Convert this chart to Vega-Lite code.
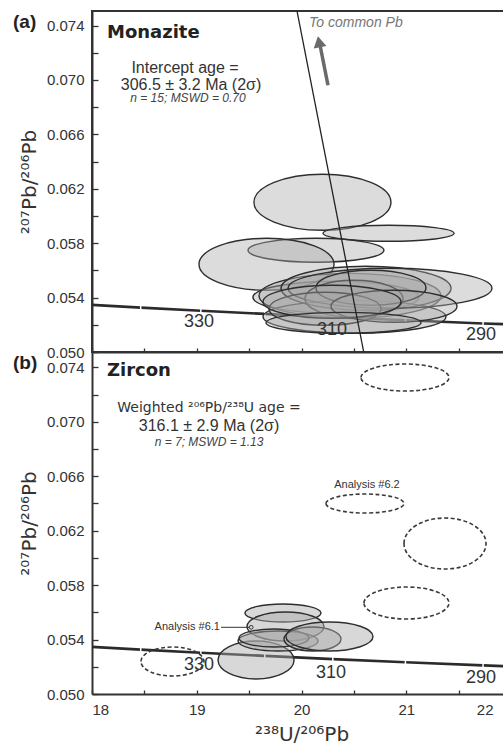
{
  "$schema": "https://vega.github.io/schema/vega-lite/v6.json",
  "padding": {"left": 12, "top": 10, "right": 0, "bottom": 0},
  "background": "white",
  "spacing": 0,
  "bounds": "flush",
  "config": {"view": {"stroke": null}, "font": "Liberation Sans"},
  "resolve": {"scale": {"x": "independent", "y": "independent", "shape": "independent", "size": "independent"}},
  "datasets": {
    "conc": [
      {"age": 350, "x": 17.923, "y": 0.0535},
      {"age": 340, "x": 18.465, "y": 0.05326},
      {"age": 330, "x": 19.039, "y": 0.05303},
      {"age": 320, "x": 19.649, "y": 0.0528},
      {"age": 310, "x": 20.299, "y": 0.05256},
      {"age": 300, "x": 20.992, "y": 0.05233},
      {"age": 290, "x": 21.733, "y": 0.0521},
      {"age": 280, "x": 22.527, "y": 0.05188}
    ],
    "zr": [
      {"id": "z1", "x": 19.566, "y": 0.052498, "w": 0.726, "status": "included"},
      {"id": "z2", "x": 19.823, "y": 0.055951, "w": 0.726, "status": "included"},
      {"id": "z3", "x": 19.847, "y": 0.05496, "w": 0.735, "status": "included"},
      {"id": "z4", "x": 19.776, "y": 0.053894, "w": 0.764, "status": "included"},
      {"id": "z5", "x": 19.737, "y": 0.054115, "w": 0.668, "status": "included"},
      {"id": "z6", "x": 20.105, "y": 0.054041, "w": 0.544, "status": "included"},
      {"id": "z7", "x": 20.267, "y": 0.054225, "w": 0.831, "status": "included"},
      {"id": "z8", "x": 20.988, "y": 0.073255, "w": 0.84, "status": "excluded"},
      {"id": "z9", "x": 20.606, "y": 0.063997, "w": 0.745, "status": "excluded"},
      {"id": "z10", "x": 21.37, "y": 0.061058, "w": 0.783, "status": "excluded"},
      {"id": "z11", "x": 21.002, "y": 0.056686, "w": 0.811, "status": "excluded"},
      {"id": "z12", "x": 18.768, "y": 0.052388, "w": 0.601, "status": "excluded"}
    ]
  },
  "vconcat": [
    {
      "width": 419,
      "height": 341,
      "view": {"stroke": "#333333", "strokeWidth": 2},
      "encoding": {
        "x": {"field": "x", "type": "quantitative", "scale": {"domain": [18, 22], "nice": false, "zero": false},
          "axis": {"title": null, "labels": false, "values": [18, 18.5, 19, 19.5, 20, 20.5, 21, 21.5, 22], "tickSize": -4, "tickColor": "#333333", "tickWidth": 1.3, "domainColor": "#333333", "domainWidth": 2, "grid": false}},
        "y": {"field": "y", "type": "quantitative", "scale": {"domain": [0.05, 0.07507], "nice": false, "zero": false},
          "axis": {"title": "²⁰⁷Pb/²⁰⁶Pb", "values": [0.05, 0.052, 0.054, 0.056, 0.058, 0.06, 0.062, 0.064, 0.066, 0.068, 0.07, 0.072, 0.074], "labelExpr": "round(datum.value*1000) % 4 == 2 ? format(datum.value, '.3f') : ''", "tickSize": -6, "tickColor": "#333333", "tickWidth": 1.3, "domainColor": "#333333", "domainWidth": 2, "labelFont": "Liberation Sans", "labelFontSize": 15, "labelColor": "#333333", "labelPadding": 14, "labelFlush": false, "labelOverlap": false, "titleFont": "DejaVu Sans", "titleFontSize": 20, "titleFontWeight": "normal", "titleColor": "#333333", "titlePadding": 7, "grid": false}}
      },
      "layer": [
        {"data": {"name": "conc"}, "mark": {"type": "line", "color": "#2b2b2b", "strokeWidth": 2.6, "clip": true}, "encoding": {}},
        {"data": {"name": "conc"}, "transform": [{"filter": "datum.age >= 290 && datum.age <= 340"}], "mark": {"type": "point", "shape": "M0,-1L0,1", "size": 30, "color": "#ffffff", "stroke": "#ffffff", "strokeWidth": 1.5, "opacity": 1, "filled": false}, "encoding": {}},
        {"data": {"values": [
            {"id": "m1", "x": 20.2, "y": 0.061007, "w": 1.308},
            {"id": "m2", "x": 20.831, "y": 0.058728, "w": 1.251},
            {"id": "m3", "x": 20.138, "y": 0.057478, "w": 1.298},
            {"id": "m4", "x": 19.666, "y": 0.056449, "w": 1.289},
            {"id": "m5", "x": 20.329, "y": 0.054022, "w": 1.585},
            {"id": "m6", "x": 20.463, "y": 0.054132, "w": 1.737},
            {"id": "m7", "x": 20.506, "y": 0.052588, "w": 1.747},
            {"id": "m8", "x": 20.616, "y": 0.054684, "w": 1.623},
            {"id": "m9", "x": 20.845, "y": 0.054684, "w": 1.947},
            {"id": "m10", "x": 20.501, "y": 0.053912, "w": 0.936},
            {"id": "m11", "x": 20.663, "y": 0.054721, "w": 1.05},
            {"id": "m12", "x": 20.224, "y": 0.053176, "w": 1.069},
            {"id": "m13", "x": 20.883, "y": 0.05336, "w": 1.203},
            {"id": "m14", "x": 20.291, "y": 0.053691, "w": 1.317},
            {"id": "m15", "x": 20.401, "y": 0.052147, "w": 1.48}
          ]},
          "mark": {"type": "point", "filled": true, "fill": "#a8a8a8", "fillOpacity": 0.4, "stroke": "#2e2e2e", "strokeWidth": 1.4, "opacity": 1},
          "encoding": {
            "shape": {"field": "id", "type": "nominal", "legend": null, "scale": {
              "domain": ["m1", "m2", "m3", "m4", "m5", "m6", "m7", "m8", "m9", "m10", "m11", "m12", "m13", "m14", "m15"],
              "range": [
                "M-1,0A1,0.409,0,1,1,1,0A1,0.409,0,1,1,-1,0Z",
                "M-1,0A1,0.122,0,1,1,1,0A1,0.122,0,1,1,-1,0Z",
                "M-1,0A1,0.176,0,1,1,1,0A1,0.176,0,1,1,-1,0Z",
                "M-1,0A1,0.385,0,1,1,1,0A1,0.385,0,1,1,-1,0Z",
                "M-1,0A1,0.193,0,1,1,1,0A1,0.193,0,1,1,-1,0Z",
                "M-1,0A1,0.247,0,1,1,1,0A1,0.247,0,1,1,-1,0Z",
                "M-1,0A1,0.180,0,1,1,1,0A1,0.180,0,1,1,-1,0Z",
                "M-1,0A1,0.259,0,1,1,1,0A1,0.259,0,1,1,-1,0Z",
                "M-1,0A1,0.196,0,1,1,1,0A1,0.196,0,1,1,-1,0Z",
                "M-1,0A1,0.378,0,1,1,1,0A1,0.378,0,1,1,-1,0Z",
                "M-1,0A1,0.318,0,1,1,1,0A1,0.318,0,1,1,-1,0Z",
                "M-1,0A1,0.295,0,1,1,1,0A1,0.295,0,1,1,-1,0Z",
                "M-1,0A1,0.254,0,1,1,1,0A1,0.254,0,1,1,-1,0Z",
                "M-1,0A1,0.239,0,1,1,1,0A1,0.239,0,1,1,-1,0Z",
                "M-1,0A1,0.135,0,1,1,1,0A1,0.135,0,1,1,-1,0Z"
              ]}},
            "size": {"field": "w", "type": "quantitative", "legend": null, "scale": {"type": "pow", "exponent": 2, "domain": [0, 1], "range": [0, 10972.6]}}
          }},
        {"data": {"values": [{"x": 19.021, "y": 0.052184, "t": "330"}, {"x": 20.291, "y": 0.051596, "t": "310"}, {"x": 21.714, "y": 0.051228, "t": "290"}]},
          "mark": {"type": "text", "fontSize": 18, "color": "#333333", "font": "Liberation Sans"}, "encoding": {"text": {"field": "t"}}},
        {"data": {"values": [{"x": 19.957, "y": 0.07507}, {"x": 20.594, "y": 0.05}]}, "mark": {"type": "line", "color": "#222222", "strokeWidth": 1.3, "clip": true}, "encoding": {}},
        {"data": {"values": [{"x": 20.253, "y": 0.06961}, {"x": 20.177, "y": 0.07255}]}, "mark": {"type": "line", "color": "#6a6a6a", "strokeWidth": 3.5}, "encoding": {}},
        {"data": {"values": [{"x": 20.167, "y": 0.07281}]}, "mark": {"type": "point", "shape": "triangle-up", "size": 170, "filled": true, "fill": "#6a6a6a", "color": "#6a6a6a", "opacity": 1, "angle": 349, "strokeWidth": 0}, "encoding": {}},
        {"data": {"values": [{"x": 18.143, "y": 0.073434, "t": "Monazite"}]}, "mark": {"type": "text", "align": "left", "baseline": "middle", "font": "DejaVu Sans", "fontWeight": "bold", "fontSize": 18, "color": "#222222"}, "encoding": {"text": {"field": "t"}}},
        {"data": {"values": [{"x": 17.246, "y": 0.074243, "t": "(a)"}]}, "mark": {"type": "text", "align": "left", "baseline": "middle", "font": "Liberation Sans", "fontWeight": "bold", "fontSize": 19, "color": "#222222"}, "encoding": {"text": {"field": "t"}}},
        {"data": {"values": [{"x": 18.888, "y": 0.070511, "t": "Intercept age ="}, {"x": 18.945, "y": 0.069284, "t": "306.5 ± 3.2 Ma (2σ)"}]}, "mark": {"type": "text", "align": "center", "baseline": "alphabetic", "font": "Liberation Sans", "fontSize": 16, "color": "#333333"}, "encoding": {"text": {"field": "t"}}},
        {"data": {"values": [{"x": 18.916, "y": 0.068364, "t": "n = 15; MSWD = 0.70"}]}, "mark": {"type": "text", "align": "center", "baseline": "alphabetic", "font": "Liberation Sans", "fontStyle": "italic", "fontSize": 12, "color": "#444444"}, "encoding": {"text": {"field": "t"}}},
        {"data": {"values": [{"x": 20.072, "y": 0.074188, "t": "To common Pb"}]}, "mark": {"type": "text", "align": "left", "baseline": "middle", "font": "Liberation Sans", "fontStyle": "italic", "fontSize": 14, "color": "#777777"}, "encoding": {"text": {"field": "t"}}}
      ]
    },
    {
      "width": 419,
      "height": 342,
      "encoding": {
        "x": {"field": "x", "type": "quantitative", "scale": {"domain": [18, 22], "nice": false, "zero": false},
          "axis": {"title": "²³⁸U/²⁰⁶Pb", "values": [18, 18.5, 19, 19.5, 20, 20.5, 21, 21.5, 22], "labelExpr": "datum.value % 1 == 0 ? format(datum.value, 'd') : ''", "tickSize": -4, "tickColor": "#333333", "tickWidth": 1.3, "domainColor": "#333333", "domainWidth": 2, "labelFont": "Liberation Sans", "labelFontSize": 15, "labelColor": "#333333", "labelPadding": 12.5, "labelFlush": true, "labelOverlap": false, "labelOffset": {"condition": {"test": "datum.value == 22", "value": -18}, "value": 0}, "titleFont": "DejaVu Sans", "titleFontSize": 20, "titleFontWeight": "normal", "titleColor": "#333333", "titlePadding": 7, "grid": false}},
        "y": {"field": "y", "type": "quantitative", "scale": {"domain": [0.05, 0.07513], "nice": false, "zero": false},
          "axis": {"title": "²⁰⁷Pb/²⁰⁶Pb", "values": [0.05, 0.052, 0.054, 0.056, 0.058, 0.06, 0.062, 0.064, 0.066, 0.068, 0.07, 0.072, 0.074], "labelExpr": "round(datum.value*1000) % 4 == 2 ? format(datum.value, '.3f') : ''", "tickSize": -6, "tickColor": "#333333", "tickWidth": 1.3, "domainColor": "#333333", "domainWidth": 2, "labelFont": "Liberation Sans", "labelFontSize": 15, "labelColor": "#333333", "labelPadding": 14, "labelFlush": false, "labelOverlap": false, "titleFont": "DejaVu Sans", "titleFontSize": 20, "titleFontWeight": "normal", "titleColor": "#333333", "titlePadding": 7, "grid": false}}
      },
      "layer": [
        {"data": {"name": "conc"}, "mark": {"type": "line", "color": "#2b2b2b", "strokeWidth": 2.6, "clip": true}, "encoding": {}},
        {"data": {"name": "conc"}, "transform": [{"filter": "datum.age >= 290 && datum.age <= 340"}], "mark": {"type": "point", "shape": "M0,-1L0,1", "size": 30, "color": "#ffffff", "stroke": "#ffffff", "strokeWidth": 1.5, "opacity": 1, "filled": false}, "encoding": {}},
        {"data": {"values": [{"x": 19.021, "y": 0.052131, "t": "330"}, {"x": 20.282, "y": 0.051543, "t": "310"}, {"x": 21.714, "y": 0.051176, "t": "290"}]},
          "mark": {"type": "text", "fontSize": 18, "color": "#333333", "font": "Liberation Sans"}, "encoding": {"text": {"field": "t"}}},
        {"data": {"name": "zr"}, "transform": [{"filter": "datum.status == 'included'"}],
          "mark": {"type": "point", "filled": true, "fill": "#a8a8a8", "fillOpacity": 0.45, "stroke": "#2e2e2e", "strokeWidth": 1.4, "opacity": 1},
          "encoding": {
            "shape": {"field": "id", "type": "nominal", "legend": null, "scale": {
              "domain": ["z1", "z2", "z3", "z4", "z5", "z6", "z7", "z8", "z9", "z10", "z11", "z12"],
              "range": [
                "M-1,0A1,0.5,0,1,1,1,0A1,0.5,0,1,1,-1,0Z",
                "M-1,0A1,0.237,0,1,1,1,0A1,0.237,0,1,1,-1,0Z",
                "M-1,0A1,0.377,0,1,1,1,0A1,0.377,0,1,1,-1,0Z",
                "M-1,0A1,0.25,0,1,1,1,0A1,0.25,0,1,1,-1,0Z",
                "M-1,0A1,0.257,0,1,1,1,0A1,0.257,0,1,1,-1,0Z",
                "M-1,0A1,0.421,0,1,1,1,0A1,0.421,0,1,1,-1,0Z",
                "M-1,0A1,0.333,0,1,1,1,0A1,0.333,0,1,1,-1,0Z",
                "M-1,0A1,0.307,0,1,1,1,0A1,0.307,0,1,1,-1,0Z",
                "M-1,0A1,0.244,0,1,1,1,0A1,0.244,0,1,1,-1,0Z",
                "M-1,0A1,0.622,0,1,1,1,0A1,0.622,0,1,1,-1,0Z",
                "M-1,0A1,0.376,0,1,1,1,0A1,0.376,0,1,1,-1,0Z",
                "M-1,0A1,0.46,0,1,1,1,0A1,0.46,0,1,1,-1,0Z"
              ]}},
            "size": {"field": "w", "type": "quantitative", "legend": null, "scale": {"type": "pow", "exponent": 2, "domain": [0, 1], "range": [0, 10972.6]}}
          }},
        {"data": {"name": "zr"}, "transform": [{"filter": "datum.status == 'excluded'"}],
          "mark": {"type": "point", "filled": false, "stroke": "#3a3a3a", "color": "#3a3a3a", "strokeWidth": 1.6, "strokeDash": [4, 2.5], "opacity": 1},
          "encoding": {
            "shape": {"field": "id", "type": "nominal", "legend": null, "scale": {
              "domain": ["z1", "z2", "z3", "z4", "z5", "z6", "z7", "z8", "z9", "z10", "z11", "z12"],
              "range": [
                "M-1,0A1,0.5,0,1,1,1,0A1,0.5,0,1,1,-1,0Z",
                "M-1,0A1,0.237,0,1,1,1,0A1,0.237,0,1,1,-1,0Z",
                "M-1,0A1,0.377,0,1,1,1,0A1,0.377,0,1,1,-1,0Z",
                "M-1,0A1,0.25,0,1,1,1,0A1,0.25,0,1,1,-1,0Z",
                "M-1,0A1,0.257,0,1,1,1,0A1,0.257,0,1,1,-1,0Z",
                "M-1,0A1,0.421,0,1,1,1,0A1,0.421,0,1,1,-1,0Z",
                "M-1,0A1,0.333,0,1,1,1,0A1,0.333,0,1,1,-1,0Z",
                "M-1,0A1,0.307,0,1,1,1,0A1,0.307,0,1,1,-1,0Z",
                "M-1,0A1,0.244,0,1,1,1,0A1,0.244,0,1,1,-1,0Z",
                "M-1,0A1,0.622,0,1,1,1,0A1,0.622,0,1,1,-1,0Z",
                "M-1,0A1,0.376,0,1,1,1,0A1,0.376,0,1,1,-1,0Z",
                "M-1,0A1,0.46,0,1,1,1,0A1,0.46,0,1,1,-1,0Z"
              ]}},
            "size": {"field": "w", "type": "quantitative", "legend": null, "scale": {"type": "pow", "exponent": 2, "domain": [0, 1], "range": [0, 10972.6]}}
          }},
        {"data": {"values": [{"x": 19.232, "y": 0.054901}, {"x": 19.499, "y": 0.054901}]}, "mark": {"type": "line", "color": "#333333", "strokeWidth": 1}, "encoding": {}},
        {"data": {"values": [{"x": 19.52, "y": 0.054901}]}, "mark": {"type": "point", "shape": "circle", "size": 14, "filled": false, "stroke": "#333333", "color": "#333333", "strokeWidth": 1, "opacity": 1}, "encoding": {}},
        {"data": {"values": [{"x": 18.143, "y": 0.073733, "t": "Zircon"}]}, "mark": {"type": "text", "align": "left", "baseline": "middle", "font": "DejaVu Sans", "fontWeight": "bold", "fontSize": 18, "color": "#222222"}, "encoding": {"text": {"field": "t"}}},
        {"data": {"values": [{"x": 17.246, "y": 0.07432, "t": "(b)"}]}, "mark": {"type": "text", "align": "left", "baseline": "middle", "font": "Liberation Sans", "fontWeight": "bold", "fontSize": 19, "color": "#222222"}, "encoding": {"text": {"field": "t"}}},
        {"data": {"values": [{"x": 19.117, "y": 0.070723, "t": "Weighted ²⁰⁶Pb/²³⁸U age ="}]}, "mark": {"type": "text", "align": "center", "baseline": "alphabetic", "font": "DejaVu Sans", "fontSize": 14, "color": "#333333"}, "encoding": {"text": {"field": "t"}}},
        {"data": {"values": [{"x": 19.117, "y": 0.069305, "t": "316.1 ± 2.9 Ma (2σ)"}]}, "mark": {"type": "text", "align": "center", "baseline": "alphabetic", "font": "Liberation Sans", "fontSize": 16, "color": "#333333"}, "encoding": {"text": {"field": "t"}}},
        {"data": {"values": [{"x": 19.117, "y": 0.068239, "t": "n = 7; MSWD = 1.13"}]}, "mark": {"type": "text", "align": "center", "baseline": "alphabetic", "font": "Liberation Sans", "fontStyle": "italic", "fontSize": 12, "color": "#444444"}, "encoding": {"text": {"field": "t"}}},
        {"data": {"values": [{"x": 20.625, "y": 0.065356, "t": "Analysis #6.2"}]}, "mark": {"type": "text", "align": "center", "baseline": "middle", "font": "Liberation Sans", "fontSize": 11, "color": "#333333"}, "encoding": {"text": {"field": "t"}}},
        {"data": {"values": [{"x": 19.222, "y": 0.054901, "t": "Analysis #6.1"}]}, "mark": {"type": "text", "align": "right", "baseline": "middle", "font": "Liberation Sans", "fontSize": 11, "color": "#333333"}, "encoding": {"text": {"field": "t"}}}
      ]
    }
  ]
}
